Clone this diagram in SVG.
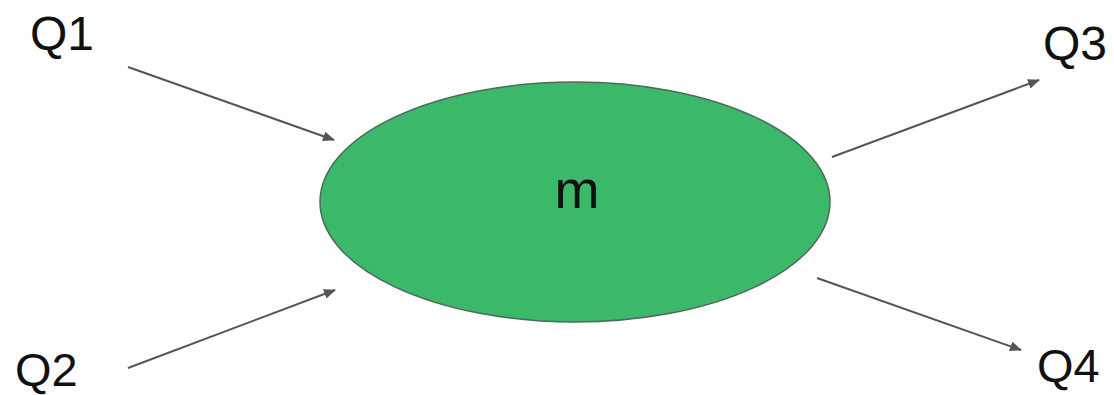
<svg xmlns="http://www.w3.org/2000/svg" width="1114" height="395" viewBox="0 0 1114 395">
<style>
.lbl{font-family:"Liberation Sans",Arial,sans-serif;font-size:48px;fill:#111}
.conn{stroke:#555;stroke-width:2;fill:none;marker-end:url(#ah)}
</style>
<defs>
<marker id="ah" viewBox="0 0 12 10" refX="11" refY="5" markerWidth="12" markerHeight="10" markerUnits="userSpaceOnUse" orient="auto">
<path d="M0,0 L12,5 L0,10 Z" fill="#555"/>
</marker>
</defs>
<rect width="1114" height="395" fill="#fff"/>
<g id="connectors">
<line class="conn" x1="128" y1="67" x2="334" y2="140"/>
<line class="conn" x1="128" y1="368" x2="335" y2="290"/>
<line class="conn" x1="832" y1="157" x2="1039" y2="80"/>
<line class="conn" x1="817" y1="278" x2="1021" y2="350"/>
</g>
<g id="node-m">
<ellipse cx="575" cy="202" rx="255" ry="120" fill="#3cb86b" stroke="#4b6b57" stroke-width="1.5"/>
<text x="577" y="208" text-anchor="middle" class="lbl" style="font-size:54px">m</text>
</g>
<g id="node-Q1"><text x="30" y="50" class="lbl">Q1</text></g>
<g id="node-Q2"><text x="15" y="386" class="lbl" style="font-size:47px">Q2</text></g>
<g id="node-Q3"><text x="1043" y="60" class="lbl">Q3</text></g>
<g id="node-Q4"><text x="1037" y="382" class="lbl" style="font-size:47px">Q4</text></g>
</svg>
